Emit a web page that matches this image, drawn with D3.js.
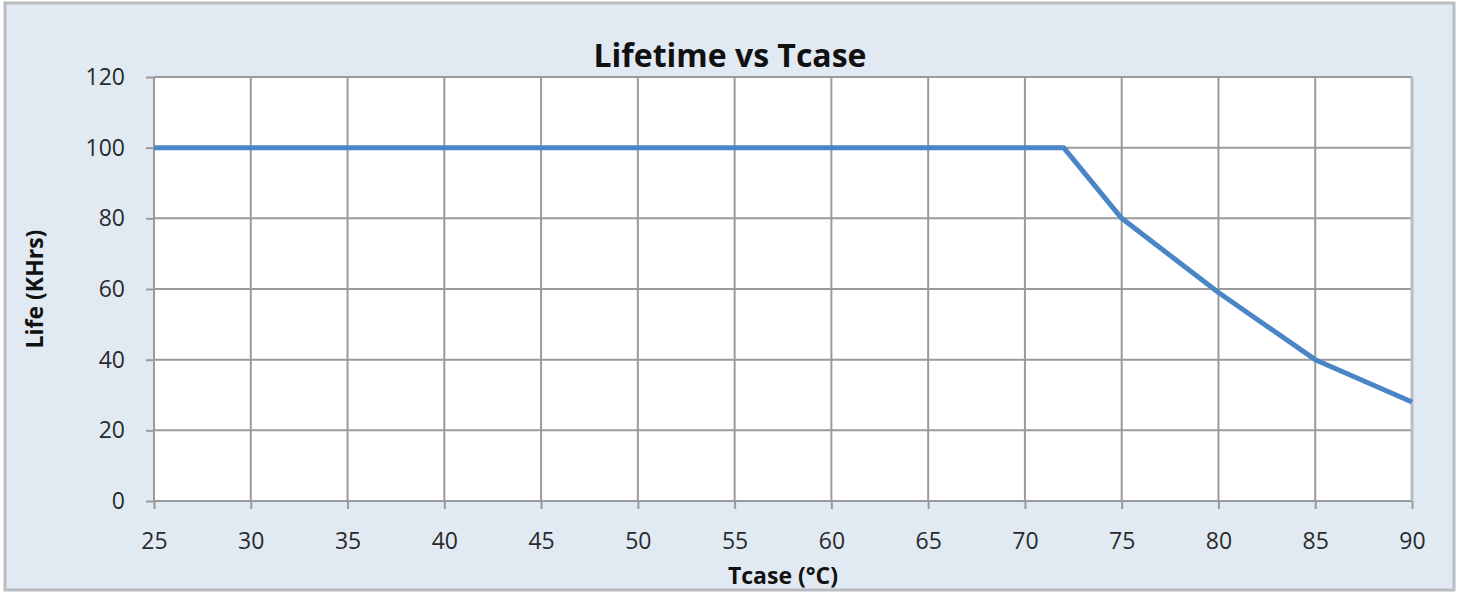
<!DOCTYPE html>
<html><head><meta charset="utf-8">
<script src="https://cdn.jsdelivr.net/npm/d3@7"></script>
<style>html,body{margin:0;padding:0;background:#fff;}svg{display:block;}</style>
</head><body>
<svg id="c" width="1459" height="594"></svg>
<script>
const tcase = [25, 72, 75, 80, 85, 90];
const life  = [100, 100, 80, 59, 40, 28];
const xTicks = [25,30,35,40,45,50,55,60,65,70,75,80,85,90];
const yTicks = [0,20,40,60,80,100,120];
const title = "Lifetime vs Tcase";
const xTitle = "Tcase (°C)";
const yTitle = "Life (KHrs)";

const svg = d3.select("#c");
const W = 1459, H = 594;
const m = {l:154, r:47, t:77, b:93};
const font = "'Open Sans', 'DejaVu Sans', sans-serif";

svg.append("rect").attr("x",5).attr("y",3).attr("width",W-10).attr("height",H-7)
  .attr("fill","#e1e9f3").attr("stroke","#b9bcc0").attr("stroke-width",3);

const x = d3.scaleLinear().domain([25,90]).range([m.l, W-m.r]);
const y = d3.scaleLinear().domain([0,120]).range([H-m.b, m.t]);

svg.append("rect").attr("x",x(25)).attr("y",y(120)).attr("width",x(90)-x(25)).attr("height",y(0)-y(120)).attr("fill","#fff");

const gx = svg.append("g").attr("transform",`translate(0,${y(0)})`)
  .call(d3.axisBottom(x).tickValues(xTicks).tickSize(8).tickPadding(24).tickFormat(d3.format("d")));
const gy = svg.append("g").attr("transform",`translate(${x(25)},0)`)
  .call(d3.axisLeft(y).tickValues(yTicks).tickSize(8).tickPadding(21).tickFormat(d3.format("d")));
[gx,gy].forEach(g=>{
  g.select(".domain").remove();
  g.selectAll("line").attr("stroke","#9a9a9a").attr("stroke-width",2);
  g.selectAll("text").attr("fill","#2a2a2a").style("font-family",font).style("font-size","23px").style("font-weight","500");
});

// grid
svg.append("g").selectAll("line").data(xTicks).join("line")
  .attr("x1",d=>x(d)).attr("x2",d=>x(d)).attr("y1",y(120)).attr("y2",y(0))
  .attr("stroke","#9a9a9a").attr("stroke-width",2);
svg.append("g").selectAll("line").data(yTicks).join("line")
  .attr("x1",x(25)).attr("x2",x(90)).attr("y1",d=>y(d)).attr("y2",d=>y(d))
  .attr("stroke","#9a9a9a").attr("stroke-width",2);
svg.append("line").attr("x1",x(90)).attr("x2",x(90)).attr("y1",y(120)).attr("y2",y(0)).attr("stroke","#b8bcc4").attr("stroke-width",3);

const pts = tcase.map((t,i)=>[t,life[i]]);
svg.append("path").datum(pts)
  .attr("d", d3.line().x(d=>x(d[0])).y(d=>y(d[1])))
  .attr("fill","none").attr("stroke","#4a85c6").attr("stroke-width",5).attr("stroke-linejoin","round");

svg.append("text").attr("x",730).attr("y",67).attr("text-anchor","middle")
  .style("font-family",font).style("font-weight","bold").style("font-size","32px").attr("fill","#111").text(title);
svg.append("text").attr("x",(x(25)+x(90))/2).attr("y",584).attr("text-anchor","middle")
  .style("font-family",font).style("font-weight","bold").style("font-size","23px").attr("fill","#111").text(xTitle);
svg.append("text").attr("transform",`translate(43,${(y(0)+y(120))/2}) rotate(-90)`).attr("text-anchor","middle")
  .style("font-family",font).style("font-weight","bold").style("font-size","23px").attr("fill","#111").text(yTitle);
</script>
</body></html>
